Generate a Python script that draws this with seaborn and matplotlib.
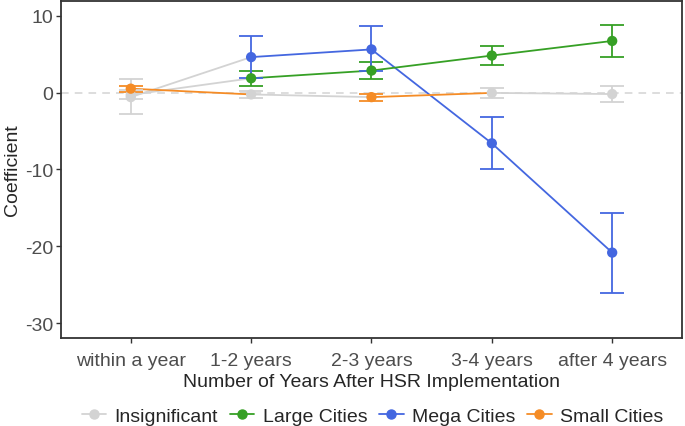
import pandas as pd
import seaborn as sns
import matplotlib.pyplot as plt
from matplotlib.lines import Line2D

# categories on the x axis
periods = ['within a year', '1-2 years', '2-3 years', '3-4 years', 'after 4 years']

# coefficients, confidence bounds and significance per city group
mega_coef = [-0.6, 4.6, 5.6, -6.6, -20.8]
mega_low = [-2.8, 1.9, 2.8, -10.0, -26.1]
mega_high = [1.7, 7.3, 8.6, -3.2, -15.7]
mega_sig = [False, True, True, True, True]

large_coef = [-0.3, 1.85, 2.85, 4.8, 6.7]
large_low = [-0.8, 0.9, 1.8, 3.55, 4.6]
large_high = [0.3, 2.85, 3.95, 6.1, 8.8]
large_sig = [False, True, True, True, True]

small_coef = [0.5, -0.25, -0.6, -0.05, -0.2]
small_low = [0.1, -0.75, -1.1, -0.7, -1.25]
small_high = [0.9, 0.25, -0.15, 0.55, 0.8]
small_sig = [True, False, True, False, False]

legend_labels = ['Insignificant', 'Large Cities', 'Mega Cities', 'Small Cities']
palette = {'Insignificant': '#D3D3D3', 'Large Cities': '#36A025',
           'Mega Cities': '#4467E0', 'Small Cities': '#F58C26'}

rows = []
for group, coef, low, high, sig in [
        ('Mega Cities', mega_coef, mega_low, mega_high, mega_sig),
        ('Large Cities', large_coef, large_low, large_high, large_sig),
        ('Small Cities', small_coef, small_low, small_high, small_sig)]:
    for i, period in enumerate(periods):
        rows.append({'group': group, 'x': i, 'coef': coef[i], 'low': low[i],
                     'high': high[i],
                     'status': group if sig[i] else 'Insignificant'})
df = pd.DataFrame(rows)

# line segments take the colour of their starting point
segs = []
seg_id = 0
for group, sub in df.groupby('group', sort=False):
    sub = sub.sort_values('x').reset_index(drop=True)
    for i in range(len(sub) - 1):
        for j in (i, i + 1):
            segs.append({'seg': seg_id, 'x': sub.loc[j, 'x'], 'coef': sub.loc[j, 'coef'],
                         'status': sub.loc[i, 'status']})
        seg_id += 1
seg_df = pd.DataFrame(segs)

sns.set_theme(style='white')
plt.rcParams['font.family'] = ['Liberation Sans', 'DejaVu Sans']

fig, ax = plt.subplots(figsize=(6.85, 4.27), dpi=100)
fig.subplots_adjust(left=0.089, right=0.9956, top=0.9955, bottom=0.206)

ax.axhline(0, color='#D3D3D3', lw=1.1, ls=(0, (5, 4)), zorder=0)

sns.lineplot(data=seg_df, x='x', y='coef', hue='status', units='seg', estimator=None,
             palette=palette, lw=1.3, legend=False, ax=ax, zorder=1)

for status in legend_labels:
    sub = df[df['status'] == status]
    ax.errorbar(sub['x'], sub['coef'],
                yerr=[sub['coef'] - sub['low'], sub['high'] - sub['coef']],
                fmt='none', ecolor=palette[status], elinewidth=1.3,
                capsize=8.3, capthick=1.3, zorder=2)

sns.scatterplot(data=df, x='x', y='coef', hue='status', palette=palette,
                hue_order=legend_labels, s=55, linewidth=0, legend=False,
                ax=ax, zorder=3)

ax.set_xlim(-0.58, 4.58)
ax.set_ylim(-31.9, 11.9)
ax.set_xticks(range(len(periods)))
ax.set_xticklabels(periods)
ax.set_yticks([10, 0, -10, -20, -30])
ax.set_yticklabels(['10', '0', '-10', '-20', '-30'])
ax.tick_params(axis='both', labelsize=14, labelcolor='#4D4D4D', length=3.5,
               width=1, color='#333333', direction='out', bottom=True, left=True)
ax.tick_params(axis='x', pad=6.5)
ax.tick_params(axis='y', pad=2)
ax.set_xlabel('Number of Years After HSR Implementation', fontsize=14, labelpad=3)
ax.set_ylabel('Coefficient', fontsize=14, labelpad=3)
for sp in ax.spines.values():
    sp.set_color('#333333')
    sp.set_linewidth(1.3)

handles = [Line2D([0], [0], color=palette[l], lw=1.3, marker='o', markersize=6.5)
           for l in legend_labels]
fig.legend(handles, legend_labels, loc='lower center', ncol=4, frameon=False,
           bbox_to_anchor=(0.544, -0.038), fontsize=14, handlelength=1.25,
           handletextpad=0.45, columnspacing=0.6)

fig.savefig('out.png', dpi=100)
